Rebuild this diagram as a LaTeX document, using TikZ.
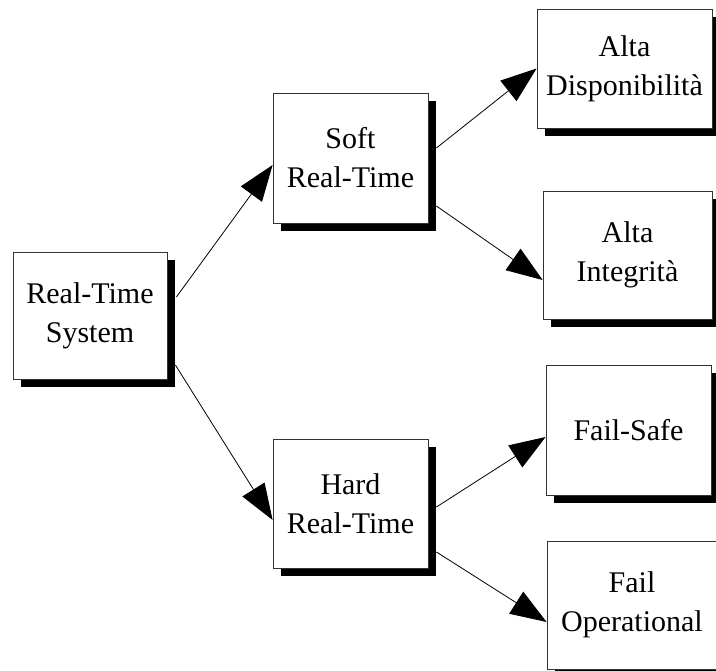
\documentclass[tikz,border=0pt]{standalone}
\usepackage{fontspec}
\setmainfont{Liberation Serif}
\usetikzlibrary{arrows.meta,shadows}

\begin{document}
\begin{tikzpicture}[x=1pt,y=-1pt,
    box/.style={draw=black!80, line width=0.8pt, fill=white, align=center, inner sep=0pt,
        font=\fontsize{30}{39}\selectfont,
        drop shadow={shadow xshift=8pt, shadow yshift=-8pt, opacity=1, fill=black}},
    link/.style={line width=0.8pt, -{Triangle[length=36pt,width=26pt]}}]
    \useasboundingbox (0,0) rectangle (716,671);

    %Root
    \node[box, minimum width=154pt, minimum height=127pt] (rts) at (90,315.5) {Real-Time\\System};
    %Soft and hard
    \node[box, minimum width=155pt, minimum height=130pt] (soft) at (350.5,158) {Soft\\Real-Time};
    \node[box, minimum width=155pt, minimum height=129pt] (hard) at (350.5,503.5) {Hard\\Real-Time};
    %Leaves
    \node[box, minimum width=175pt, minimum height=119pt] (altad) at (624.5,68.5) {Alta\\Disponibilità};
    \node[box, minimum width=169pt, minimum height=128pt] (altai) at (627.5,255) {Alta\\Integrità};
    \node[box, minimum width=165pt, minimum height=130pt] (fsafe) at (628.5,430) {Fail-Safe};
    \node[box, minimum width=170pt, minimum height=128pt] (fop) at (632,605) {Fail\\Operational};

    %Links
    \draw[link] ([shift={(9pt,18.5pt)}]rts.east) -- ([yshift=-7pt]soft.west);
    \draw[link] ([shift={(8pt,-49.5pt)}]rts.east) -- ([yshift=-16.5pt]hard.west);
    \draw[link] ([shift={(8pt,10pt)}]soft.east) -- (altad.west);
    \draw[link] ([shift={(8pt,-48pt)}]soft.east) -- ([yshift=-25pt]altai.west);
    \draw[link] ([shift={(8pt,-3.5pt)}]hard.east) -- ([yshift=-7pt]fsafe.west);
    \draw[link] ([shift={(8pt,-48.5pt)}]hard.east) -- ([yshift=-17pt]fop.west);
\end{tikzpicture}
\end{document}
